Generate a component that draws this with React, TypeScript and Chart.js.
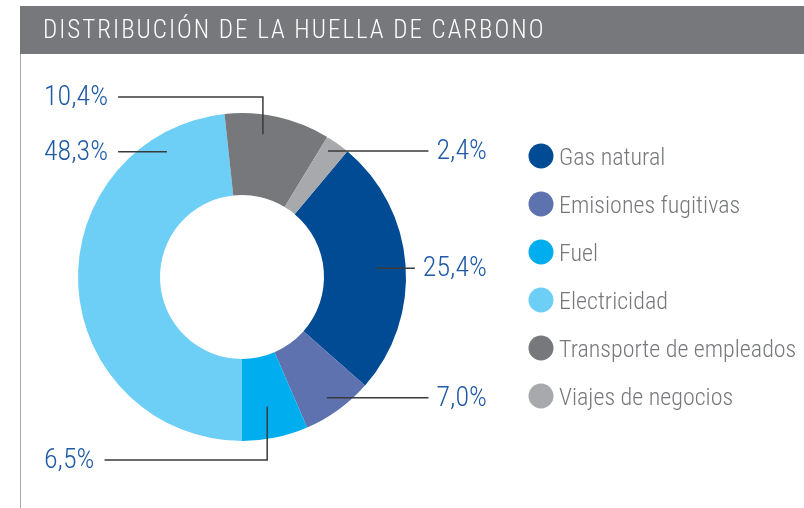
import { useEffect, useRef } from "react";
import { Chart, registerables } from "chart.js";
Chart.register(...registerables);

const title = "DISTRIBUCIÓN DE LA HUELLA DE CARBONO";
const categories = [
  "Gas natural",
  "Emisiones fugitivas",
  "Fuel",
  "Electricidad",
  "Transporte de empleados",
  "Viajes de negocios",
];
const shares = [25.4, 7.0, 6.5, 48.3, 10.4, 2.4];
const shareLabels = ["25,4%", "7,0%", "6,5%", "48,3%", "10,4%", "2,4%"];
const colors = ["#004b93", "#5d72ae", "#00aeef", "#6dcff6", "#77787b", "#a7a9ac"];

// callout layout (style): side, position along slice (0..1), radial position in ring (0..1), optional elbow
const callouts = [
  { side: "right", t: 0.507, r: 0.64, elbow: 0 },
  { side: "right", t: 0.535, r: 0.8, elbow: 0 },
  { side: "left", t: 0.53, r: 0.61, elbow: 19 },
  { side: "left", t: 0.857, r: 0.78, elbow: 0 },
  { side: "left", t: 0.386, r: 0.76, elbow: -16 },
  { side: "right", t: 0.35, r: 0.86, elbow: 0 },
];

const FONT = '"Liberation Sans Narrow", "Roboto Condensed", "DejaVu Sans Condensed", "Liberation Sans", sans-serif';
const LABEL_BLUE = "#1f5aa6";
const GRAY = "#77787b";

const decorPlugin = {
  id: "decor",
  beforeDraw(chart: any) {
    const ctx = chart.ctx;
    ctx.save();
    ctx.fillStyle = "#ffffff";
    ctx.fillRect(0, 0, chart.width, chart.height);
    ctx.fillStyle = GRAY;
    ctx.fillRect(20, 6, chart.width - 20, 48);
    ctx.strokeStyle = "#a7a9ac";
    ctx.lineWidth = 1;
    ctx.beginPath();
    ctx.moveTo(20.5, 54);
    ctx.lineTo(20.5, chart.height);
    ctx.stroke();
    ctx.fillStyle = "#ffffff";
    ctx.font = `300 25px ${FONT}`;
    (ctx as any).letterSpacing = "2px";
    ctx.textBaseline = "alphabetic";
    ctx.textAlign = "left";
    ctx.fillText(title, 43, 38);
    ctx.restore();
  },
  afterDraw(chart: any) {
    const ctx = chart.ctx;
    const meta = chart.getDatasetMeta(0);
    const arcs = meta.data;
    if (!arcs.length) return;
    const cx = arcs[0].x;
    const cy = arcs[0].y;
    const R = arcs[0].outerRadius;
    ctx.save();
    ctx.font = `300 28px ${FONT}`;
    ctx.textBaseline = "alphabetic";
    ctx.lineWidth = 1.5;
    ctx.strokeStyle = "#3a3a3a";
    arcs.forEach((arc: any, i: number) => {
      const c = callouts[i];
      const a = arc.startAngle + (arc.endAngle - arc.startAngle) * c.t;
      const rr = arc.innerRadius + (arc.outerRadius - arc.innerRadius) * c.r;
      const px = cx + rr * Math.cos(a);
      const py = cy + rr * Math.sin(a);
      const text = shareLabels[i];
      const w = ctx.measureText(text).width;
      let lineY = py;
      if (c.elbow !== 0) lineY = c.elbow < 0 ? cy - R + c.elbow : cy + R + c.elbow;
      ctx.beginPath();
      if (c.side === "left") {
        const tx = cx - 198;
        ctx.fillStyle = LABEL_BLUE;
        ctx.textAlign = "left";
        ctx.fillText(text, tx, lineY + 8);
        ctx.moveTo(tx + w + 10, lineY);
        ctx.lineTo(px, lineY);
        if (c.elbow !== 0) ctx.lineTo(px, py);
      } else {
        const tx = cx + 245;
        ctx.fillStyle = LABEL_BLUE;
        ctx.textAlign = "right";
        ctx.fillText(text, tx, lineY + 8);
        ctx.moveTo(px, lineY);
        ctx.lineTo(tx - w - 8, lineY);
      }
      ctx.stroke();
    });
    // legend
    ctx.font = `300 24px ${FONT}`;
    ctx.textAlign = "left";
    categories.forEach((name, i) => {
      const lx = cx + 299;
      const ly = cy - 121 + i * 48;
      ctx.fillStyle = colors[i];
      ctx.beginPath();
      ctx.arc(lx, ly, 12.5, 0, Math.PI * 2);
      ctx.fill();
      ctx.fillStyle = GRAY;
      ctx.fillText(name, lx + 18, ly + 9);
    });
    ctx.restore();
  },
};

export default function App() {
  const ref = useRef<HTMLCanvasElement>(null);
  useEffect(() => {
    document.body.style.margin = "0";
    if (!ref.current) return;
    const total = shares.reduce((s, v) => s + v, 0);
    const firstThree = shares[0] + shares[1] + shares[2];
    const rotation = 180 - (firstThree / total) * 360;
    const chart = new Chart(ref.current, {
      type: "doughnut",
      data: {
        labels: categories,
        datasets: [
          {
            data: shares,
            backgroundColor: colors,
            borderWidth: 0,
          },
        ],
      },
      options: {
        animation: false,
        responsive: false,
        rotation,
        cutout: "50%",
        layout: { padding: { left: 78, right: 398, top: 113, bottom: 67 } },
        plugins: { legend: { display: false }, tooltip: { enabled: false } },
      },
      plugins: [decorPlugin],
    });
    return () => chart.destroy();
  }, []);
  return (
    <div style={{ width: 804, height: 508 }}>
      <canvas ref={ref} width={804} height={508} />
    </div>
  );
}
